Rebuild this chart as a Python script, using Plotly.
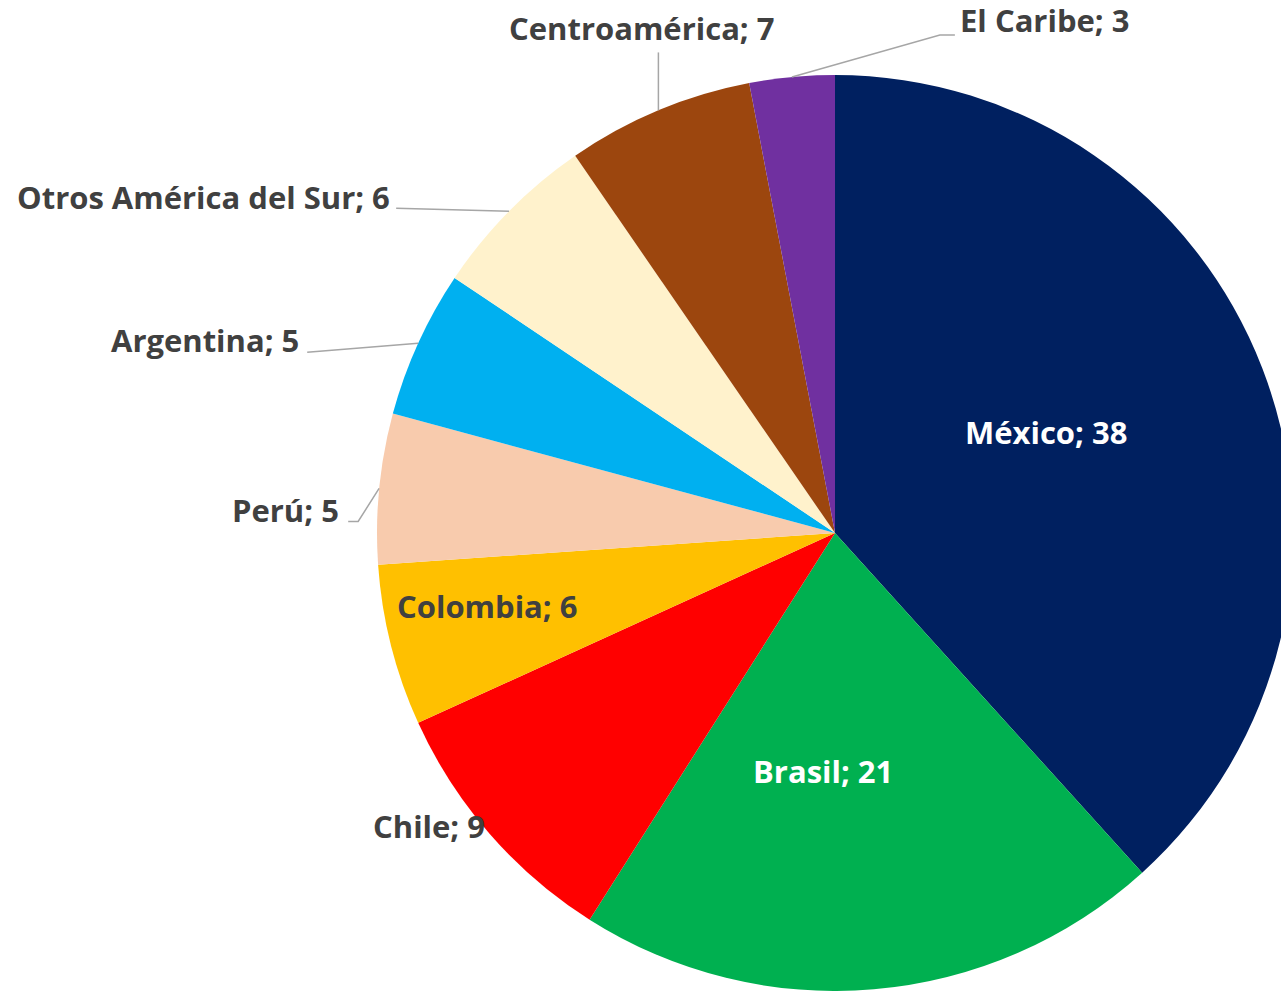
import numpy as np
import plotly.graph_objects as go

paises = ["México", "Brasil", "Chile", "Colombia", "Perú", "Argentina",
          "Otros América del Sur", "Centroamérica", "El Caribe"]
valores = [38.3, 20.7, 9.2, 5.7, 5.3, 5.2, 6.0, 6.6, 3.0]
colores = ["#002060", "#00B050", "#FF0000", "#FFC000", "#F8CBAD", "#00B0F0",
           "#FFF2CC", "#9C460E", "#7030A0"]

# page / pie geometry (px)
W, H = 1293, 991
CX, CY, R = 835, 533, 458
GRIS = "#404040"

# labels inside the pie: radius fraction at mid angle, nudge x/y, colour
dentro = {
    "México": (0.5, -3, -19, "white"),
    "Brasil": (0.52, -32, 1, "white"),
    "Chile": (1.0, -61, -8, GRIS),
    "Colombia": (0.78, -2, -15, GRIS),
}
# labels outside: leader points relative to the slice edge, text offset from last point, anchor
fuera = {
    "Perú": ([(-21, 33), (-31, 33)], (-7, -11), "right"),
    "Argentina": ([(-111, 9)], (-6, -12), "right"),
    "Otros América del Sur": ([(-113, -3)], (-4, -11), "right"),
    "Centroamérica": ([(0, -58)], (-17, -24), "center"),
    "El Caribe": ([(148, -42), (163, -42)], (3, -15), "left"),
}


def to_paper(px, py):
    return px / W, 1 - py / H


frac = np.array(valores) / sum(valores)
mid = (np.cumsum(frac) - frac / 2) * 2 * np.pi

fig = go.Figure(
    go.Pie(
        labels=paises,
        values=valores,
        sort=False,
        direction="clockwise",
        rotation=0,
        marker=dict(colors=colores, line=dict(width=0)),
        textinfo="none",
        hoverinfo="label+value",
        domain=dict(x=[(CX - R) / W, (CX + R) / W], y=[(H - CY - R) / H, (H - CY + R) / H]),
    )
)

fuente = dict(family="Open Sans", size=31, weight="bold")
for nombre, v, a in zip(paises, valores, mid):
    texto = f"{nombre}; {v:.0f}"
    if nombre in dentro:
        f, dx, dy, col = dentro[nombre]
        px = CX + f * R * np.sin(a) + dx
        py = CY - f * R * np.cos(a) + dy
        x, y = to_paper(px, py)
        fig.add_annotation(x=x, y=y, xref="paper", yref="paper", text=texto, showarrow=False,
                           xanchor="center", yanchor="middle", font=dict(fuente, color=col))
    else:
        puntos, (tx, ty), anc = fuera[nombre]
        ex, ey = CX + R * np.sin(a), CY - R * np.cos(a)
        pts = [(ex, ey)] + [(ex + dx, ey + dy) for dx, dy in puntos]
        path = "M " + " L ".join("{:.4f},{:.4f}".format(*to_paper(px, py)) for px, py in pts)
        fig.add_shape(type="path", path=path, xref="paper", yref="paper",
                      line=dict(color="#A6A6A6", width=1.5))
        lx, ly = pts[-1]
        x, y = to_paper(lx + tx, ly + ty)
        fig.add_annotation(x=x, y=y, xref="paper", yref="paper", text=texto, showarrow=False,
                           xanchor=anc, yanchor="middle", font=dict(fuente, color=GRIS))

fig.update_layout(
    width=W,
    height=H,
    margin=dict(l=0, r=0, t=0, b=0),
    showlegend=False,
    paper_bgcolor="white",
)

fig.write_html("out.html", config={"displayModeBar": False},
               post_script="document.body.style.margin='0';document.body.style.overflow='hidden';")
